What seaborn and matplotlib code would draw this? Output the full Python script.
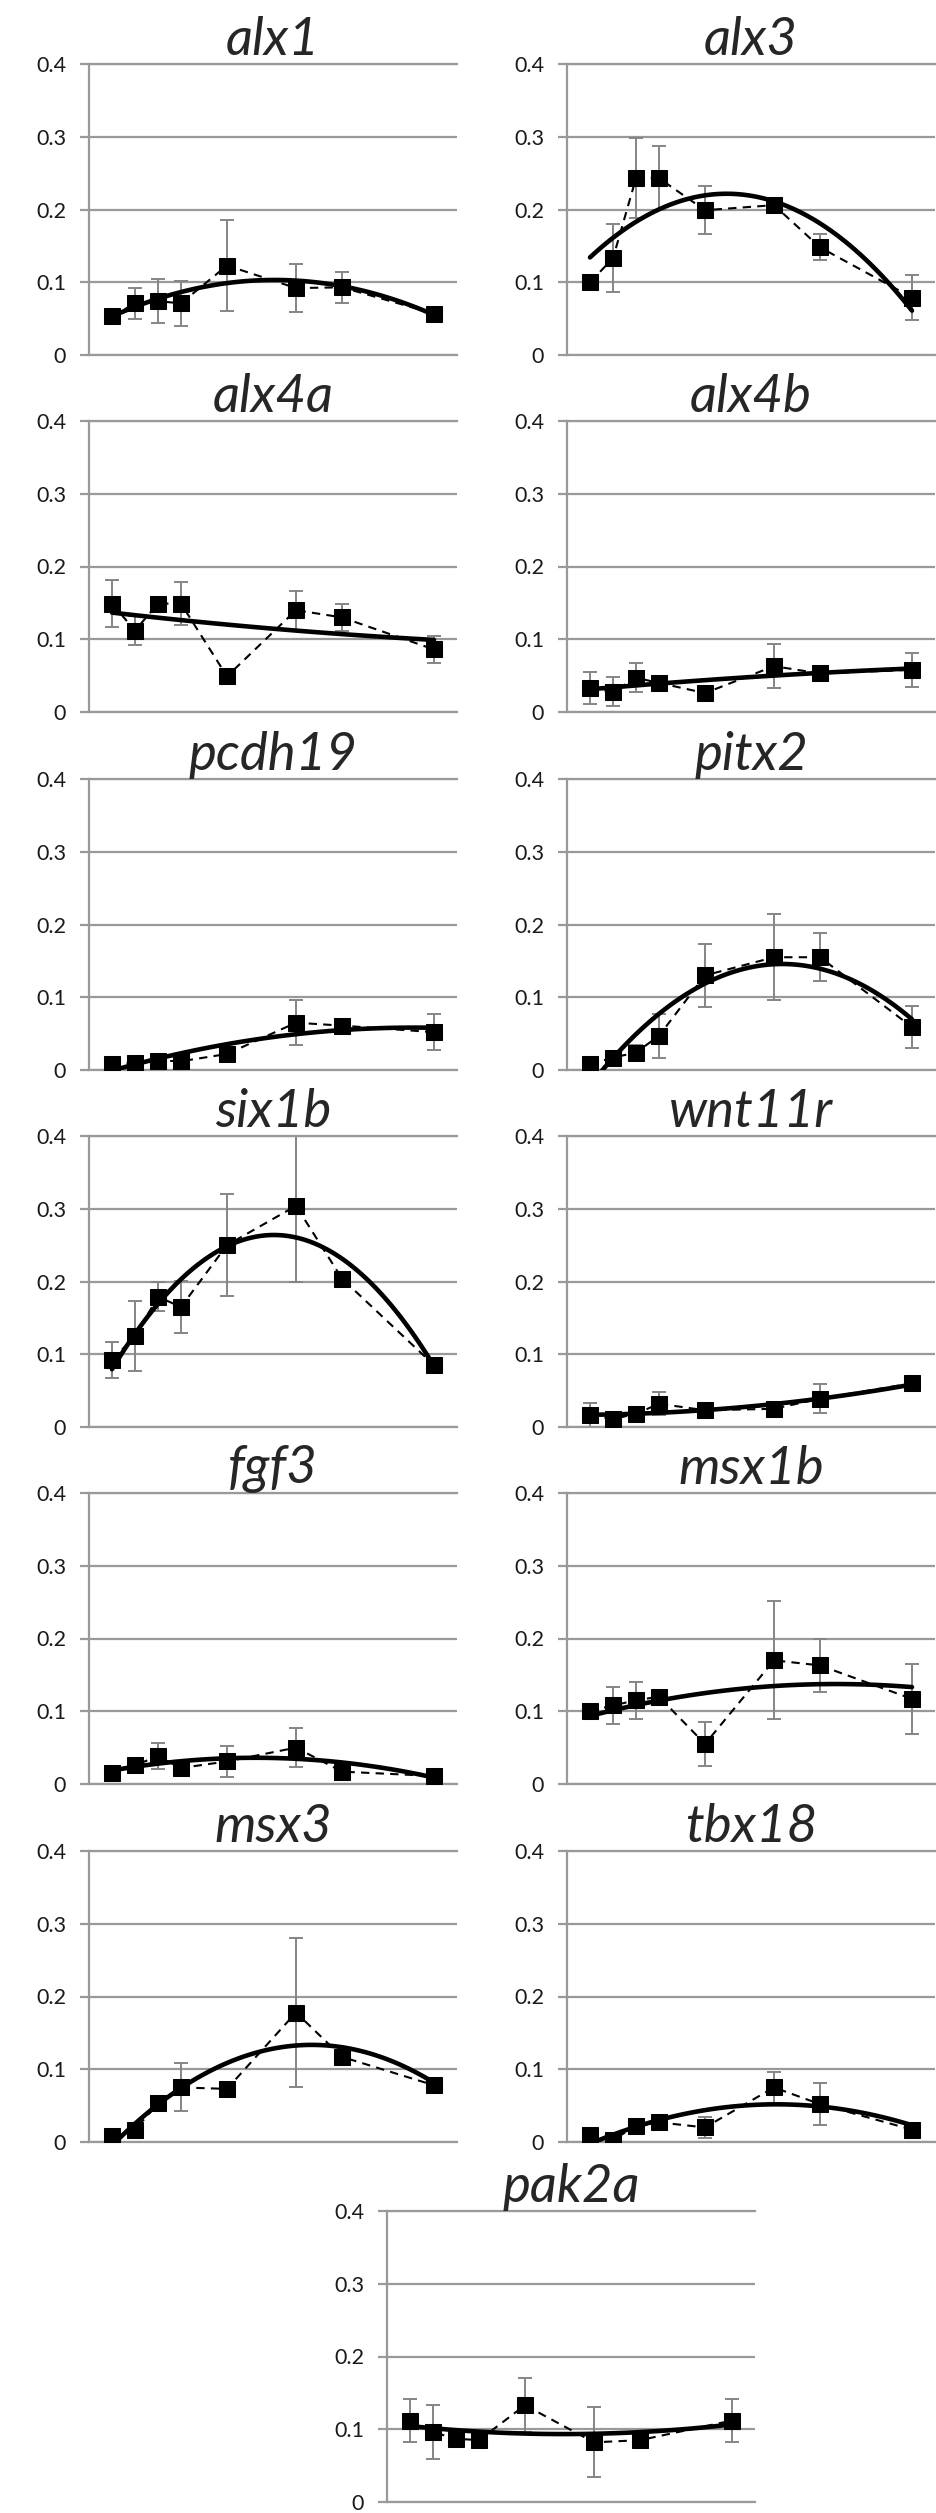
import matplotlib
matplotlib.use("Agg")
import pandas as pd
import matplotlib.pyplot as plt
from matplotlib.ticker import FuncFormatter
import seaborn as sns

sns.set_style("white")
plt.rcParams['font.family'] = ['Lato', 'DejaVu Sans']

#%% values (x = sampling points, y = relative expression)
x_pos = [1, 2, 3, 4, 6, 9, 11, 15]

alx1_mean = [0.053, 0.071, 0.074, 0.071, 0.123, 0.092, 0.093, 0.057]
alx1_err = [0.004, 0.021, 0.030, 0.031, 0.062, 0.033, 0.021, 0.005]

alx3_mean = [0.100, 0.133, 0.243, 0.243, 0.199, 0.206, 0.148, 0.079]
alx3_err = [0.005, 0.047, 0.055, 0.044, 0.033, 0.008, 0.018, 0.031]

alx4a_mean = [0.149, 0.112, 0.149, 0.149, 0.049, 0.140, 0.130, 0.086]
alx4a_err = [0.032, 0.020, 0.005, 0.030, 0.008, 0.027, 0.019, 0.019]

alx4b_mean = [0.033, 0.028, 0.047, 0.040, 0.026, 0.063, 0.053, 0.058]
alx4b_err = [0.022, 0.020, 0.020, 0.008, 0.008, 0.030, 0.010, 0.023]

pcdh19_mean = [0.008, 0.010, 0.013, 0.012, 0.022, 0.065, 0.061, 0.052]
pcdh19_err = [0.004, 0.004, 0.004, 0.004, 0.005, 0.031, 0.006, 0.025]

pitx2_mean = [0.008, 0.017, 0.024, 0.047, 0.130, 0.155, 0.155, 0.059]
pitx2_err = [0.004, 0.005, 0.010, 0.030, 0.043, 0.059, 0.033, 0.029]

six1b_mean = [0.092, 0.125, 0.179, 0.165, 0.250, 0.304, 0.204, 0.085]
six1b_err = [0.025, 0.048, 0.020, 0.036, 0.070, 0.105, 0.005, 0.005]

wnt11r_mean = [0.016, 0.011, 0.018, 0.032, 0.023, 0.025, 0.039, 0.060]
wnt11r_err = [0.017, 0.004, 0.005, 0.016, 0.004, 0.006, 0.020, 0.004]

fgf3_mean = [0.015, 0.026, 0.038, 0.022, 0.031, 0.050, 0.017, 0.011]
fgf3_err = [0.004, 0.008, 0.018, 0.005, 0.021, 0.027, 0.004, 0.004]

msx1b_mean = [0.100, 0.108, 0.115, 0.120, 0.055, 0.170, 0.163, 0.117]
msx1b_err = [0.005, 0.026, 0.025, 0.005, 0.030, 0.081, 0.037, 0.048]

msx3_mean = [0.008, 0.017, 0.053, 0.075, 0.073, 0.178, 0.117, 0.078]
msx3_err = [0.004, 0.004, 0.005, 0.033, 0.005, 0.103, 0.005, 0.005]

tbx18_mean = [0.010, 0.003, 0.022, 0.027, 0.020, 0.075, 0.052, 0.017]
tbx18_err = [0.004, 0.004, 0.004, 0.004, 0.015, 0.021, 0.029, 0.004]

pak2a_mean = [0.112, 0.096, 0.087, 0.085, 0.133, 0.082, 0.085, 0.112]
pak2a_err = [0.029, 0.037, 0.005, 0.005, 0.037, 0.048, 0.005, 0.029]

y_ticks = [0, 0.1, 0.2, 0.3, 0.4]

panels = [("alx1", alx1_mean, alx1_err), ("alx3", alx3_mean, alx3_err),
          ("alx4a", alx4a_mean, alx4a_err), ("alx4b", alx4b_mean, alx4b_err),
          ("pcdh19", pcdh19_mean, pcdh19_err), ("pitx2", pitx2_mean, pitx2_err),
          ("six1b", six1b_mean, six1b_err), ("wnt11r", wnt11r_mean, wnt11r_err),
          ("fgf3", fgf3_mean, fgf3_err), ("msx1b", msx1b_mean, msx1b_err),
          ("msx3", msx3_mean, msx3_err), ("tbx18", tbx18_mean, tbx18_err),
          ("pak2a", pak2a_mean, pak2a_err)]

#%% layout in pixels
W, H = 937, 2513
AW, AH = 368, 291
grey = "#999999"
row_top = [64, 421, 779, 1136, 1493, 1851, 2211]
col_left = [89, 567]

fig = plt.figure(figsize=(W / 100, H / 100), dpi=100)


def panel(left, top, name, mean, err):
    ax = fig.add_axes([left / W, 1 - (top + AH) / H, AW / W, AH / H])
    df = pd.DataFrame({"x": x_pos, "y": mean})
    ax.errorbar(x_pos, mean, yerr=err, fmt='none', ecolor="#858585", elinewidth=1.4,
                capsize=5, capthick=1.4, zorder=2)
    sns.lineplot(data=df, x="x", y="y", ax=ax, color='k', lw=1.5, linestyle=(0, (4, 3)),
                 marker='s', markersize=11, markeredgecolor='k', zorder=3)
    sns.regplot(data=df, x="x", y="y", ax=ax, order=2, ci=None, scatter=False,
                line_kws=dict(color='k', lw=3.3, zorder=4))
    ax.set(xlabel="", ylabel="", xlim=(0, 16), ylim=(0, 0.4))
    ax.set_xticks([])
    ax.set_yticks(y_ticks)
    ax.yaxis.set_major_formatter(FuncFormatter(lambda v, p: "0" if v == 0 else "%.1f" % v))
    ax.grid(axis='y', color=grey, lw=1.6)
    ax.set_axisbelow(True)
    ax.spines["right"].set_visible(False)
    for s in ["left", "top", "bottom"]:
        ax.spines[s].set_color(grey)
        ax.spines[s].set_linewidth(1.6)
    ax.tick_params(axis='y', left=True, direction='out', length=6.5, width=1.6, color=grey,
                   labelsize=15.5, pad=10, labelcolor="#1a1a1a")
    ax.set_title(name, fontsize=38, style='italic', pad=4)
    return ax


for i, (name, m, e) in enumerate(panels[:-1]):
    panel(col_left[i % 2], row_top[i // 2], name, m, e)

name, m, e = panels[-1]
panel(387, row_top[-1], name, m, e)

plt.savefig("out.png", dpi=100)
